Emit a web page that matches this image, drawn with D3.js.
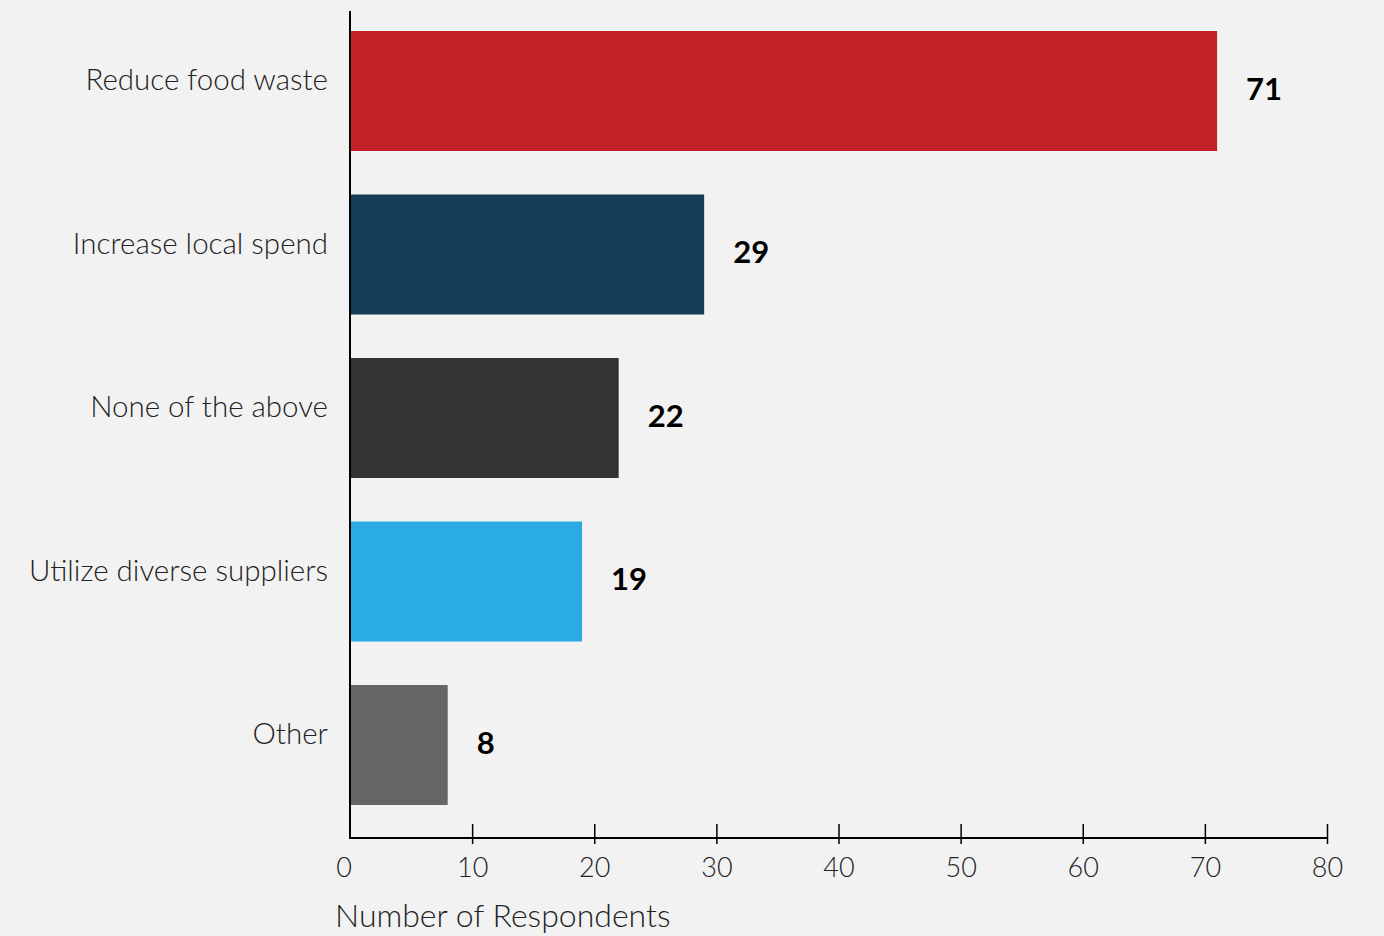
<!DOCTYPE html>
<html>
<head>
<meta charset="utf-8">
<script src="https://cdn.jsdelivr.net/npm/d3@7"></script>
<style>
  body { margin: 0; background: #f2f2f2; }
  svg { display: block; font-family: Lato, "Open Sans", sans-serif; }
</style>
</head>
<body>
<svg id="chart"></svg>
<script>
var categories = ["Reduce food waste", "Increase local spend", "None of the above", "Utilize diverse suppliers", "Other"];
var counts = [71, 29, 22, 19, 8];
var barColors = ["#c42027", "#133d54", "#333333", "#2aabe3", "#666666"];
var xTicks = [10, 20, 30, 40, 50, 60, 70, 80];

var width = 1384,
    height = 936;

var svg = d3.select("#chart")
    .attr("width", width)
    .attr("height", height);

svg.append("rect")
   .attr("width", width)
   .attr("height", height)
   .attr("fill", "#f2f2f2");

var xScale = d3.scaleLinear().domain([0, 80]).range([350, 1327]),
    yScale = d3.scaleBand().domain(categories).range([31, 805]).paddingInner(0.266).paddingOuter(0);

var data = categories.map(function(c, i) {
    return { name: c, value: counts[i], color: barColors[i] };
});

// bars
svg.selectAll(".bar")
   .data(data)
   .enter().append("rect")
   .attr("class", "bar")
   .attr("x", xScale(0))
   .attr("y", function(d) { return yScale(d.name); })
   .attr("width", function(d) { return xScale(d.value) - xScale(0); })
   .attr("height", yScale.bandwidth())
   .attr("fill", function(d) { return d.color; });

// value labels
svg.selectAll(".val")
   .data(data)
   .enter().append("text")
   .attr("class", "val")
   .attr("x", function(d) { return xScale(d.value) + 29; })
   .attr("y", function(d) { return yScale(d.name) + yScale.bandwidth() / 2 - 2; })
   .attr("dy", "0.35em")
   .attr("font-size", "31px")
   .attr("font-weight", "bold")
   .attr("fill", "#000")
   .text(function(d) { return d.value; });

// category labels
svg.selectAll(".cat")
   .data(data)
   .enter().append("text")
   .attr("class", "cat")
   .attr("x", 328)
   .attr("y", function(d) { return yScale(d.name) + yScale.bandwidth() / 2 - 11; })
   .attr("dy", "0.35em")
   .attr("text-anchor", "end")
   .attr("font-size", "29.5px")
   .attr("font-weight", 300)
   .attr("fill", "#222")
   .text(function(d) { return d.name; });

// x axis
var xAxis = svg.append("g")
   .attr("transform", "translate(0,838)")
   .call(d3.axisBottom(xScale).tickValues(xTicks).tickSizeOuter(0).tickFormat(d3.format("d")));

xAxis.select(".domain")
   .attr("d", "M" + xScale(0) + ",0H" + xScale(80))
   .attr("stroke", "#000")
   .attr("stroke-width", 2);
xAxis.selectAll(".tick line")
   .attr("y1", -14)
   .attr("y2", 6)
   .attr("stroke", "#000")
   .attr("stroke-width", 1.5);
xAxis.selectAll(".tick text")
   .attr("y", 20)
   .attr("font-family", "Lato, sans-serif")
   .attr("font-size", "27px")
   .attr("font-weight", 300)
   .attr("fill", "#222");

// zero label (no tick)
svg.append("text")
   .attr("x", xScale(0) - 6)
   .attr("y", 858)
   .attr("dy", "0.71em")
   .attr("text-anchor", "middle")
   .attr("font-size", "27px")
   .attr("font-weight", 300)
   .attr("fill", "#222")
   .text("0");

// y axis line
svg.append("line")
   .attr("x1", xScale(0))
   .attr("x2", xScale(0))
   .attr("y1", 11)
   .attr("y2", 839)
   .attr("stroke", "#000")
   .attr("stroke-width", 2);

svg.append("text")
   .attr("x", 335)
   .attr("y", 927)
   .attr("font-size", "32px")
   .attr("font-weight", 300)
   .attr("fill", "#222")
   .text("Number of Respondents");
</script>
</body>
</html>
